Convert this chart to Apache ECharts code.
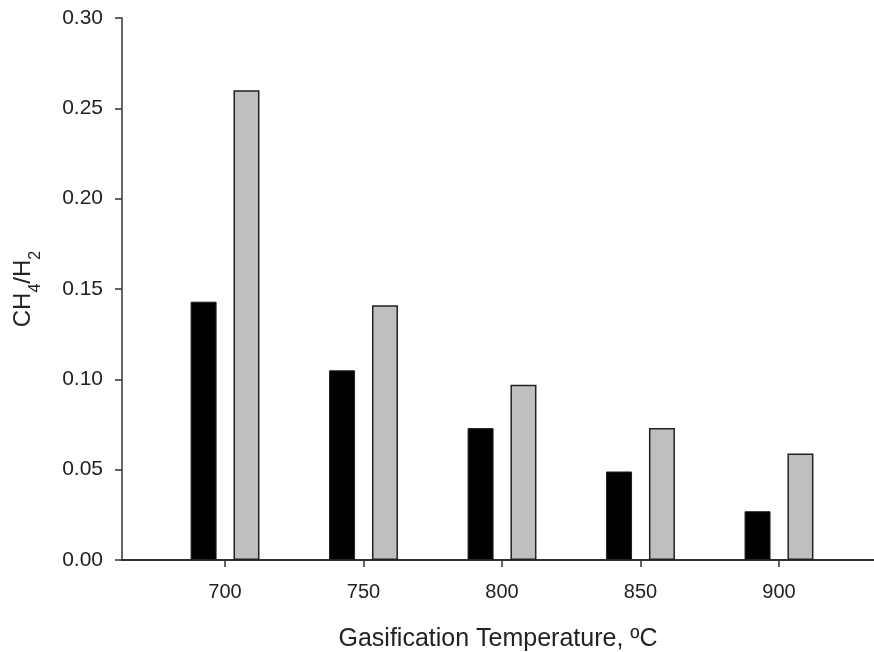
<!DOCTYPE html>
<html>
<head>
<meta charset="utf-8">
<script src="https://cdn.jsdelivr.net/npm/echarts@6/dist/echarts.min.js"></script>
<style>
html,body{margin:0;padding:0;background:#fff;}
#c{width:874px;height:652px;}
</style>
</head>
<body>
<div id="c"></div>
<script>
var temperatures = [700, 750, 800, 850, 900];
var seriesBlack = [0.143, 0.105, 0.073, 0.049, 0.027];
var seriesGray = [0.260, 0.141, 0.097, 0.073, 0.059];
var yTicks = [0, 0.05, 0.10, 0.15, 0.20, 0.25, 0.30];

var FONT = '"Liberation Sans", Arial, sans-serif';
var chart = echarts.init(document.getElementById('c'), null, {renderer: 'canvas'});

function pairs(vals) {
  return temperatures.map(function (t, i) { return [t, vals[i]]; });
}

chart.setOption({
  animation: false,
  backgroundColor: '#fff',
  grid: {left: 122, right: 0, top: 18, bottom: 92, containLabel: false, outerBoundsMode: 'none'},
  xAxis: [{
    type: 'value',
    min: 662.8,
    max: 934.3,
    splitLine: {show: false},
    axisLine: {show: true, onZero: false, lineStyle: {color: '#222', width: 1.5}},
    axisTick: {show: true, inside: false, length: 7, customValues: temperatures, lineStyle: {color: '#333', width: 1.5}},
    axisLabel: {show: true, margin: 22, customValues: temperatures, color: '#222', fontSize: 20, fontFamily: FONT},
    name: 'Gasification Temperature, ºC',
    nameLocation: 'middle',
    nameGap: 67,
    nameTextStyle: {color: '#222', fontSize: 25, fontFamily: FONT}
  }, {
    type: 'value',
    position: 'top',
    min: 662.8,
    max: 934.3,
    splitLine: {show: false},
    axisLine: {show: true, lineStyle: {color: '#222', width: 1.5}},
    axisTick: {show: false},
    axisLabel: {show: false}
  }],
  yAxis: {
    type: 'value',
    min: 0,
    max: 0.30,
    interval: 0.05,
    splitLine: {show: false},
    axisLine: {show: true, lineStyle: {color: '#333', width: 1.5}},
    axisTick: {show: true, inside: false, length: 7, lineStyle: {color: '#333', width: 1.5}},
    axisLabel: {
      margin: 19, color: '#222', fontSize: 21, fontFamily: FONT,
      formatter: function (v) { return v.toFixed(2); }
    },
    name: '{a|CH}{s|4}{a|/H}{s|2}',
    nameLocation: 'middle',
    nameRotate: 90,
    nameGap: 84,
    nameTextStyle: {
      color: '#222', fontFamily: FONT,
      rich: {
        a: {fontSize: 24, fontFamily: FONT, color: '#222', lineHeight: 30, verticalAlign: 'middle'},
        s: {fontSize: 16, fontFamily: FONT, color: '#222', lineHeight: 30, verticalAlign: 'bottom', padding: [0, 0, -6, 0]}
      }
    }
  },
  series: [{
    type: 'bar',
    name: 'black',
    data: pairs(seriesBlack),
    barWidth: 26,
    barGap: '65%',
    itemStyle: {color: '#000', borderColor: '#222', borderWidth: 1}
  }, {
    type: 'bar',
    name: 'gray',
    data: pairs(seriesGray),
    barWidth: 26,
    barGap: '65%',
    itemStyle: {color: '#bfbfbf', borderColor: '#222', borderWidth: 1.5}
  }]
});
</script>
</body>
</html>
